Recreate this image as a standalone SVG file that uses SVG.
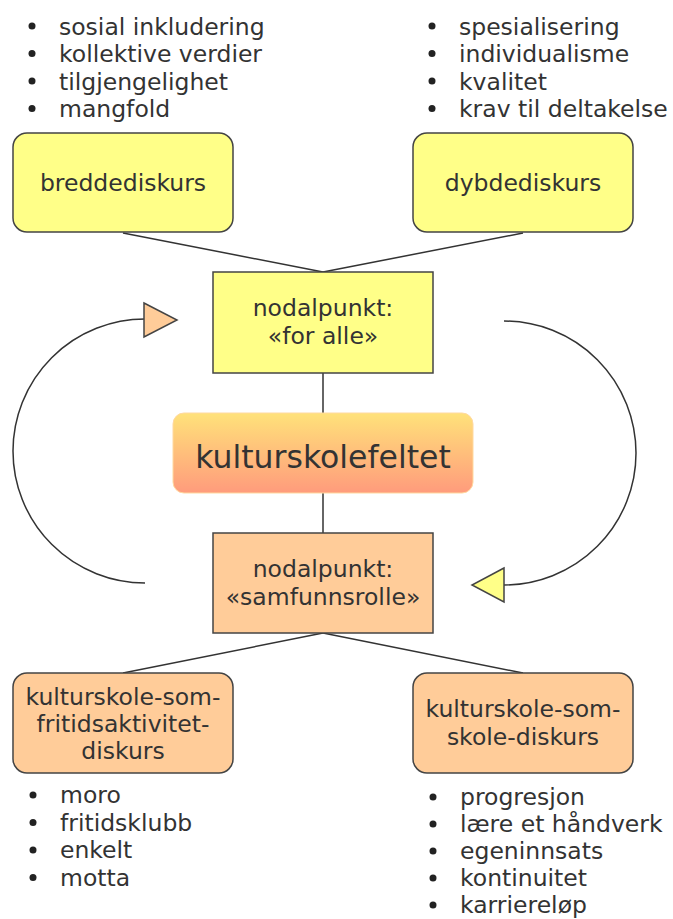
<svg xmlns="http://www.w3.org/2000/svg" width="673" height="919" viewBox="0 0 673 919">
<style>
text{font-family:"DejaVu Sans",Verdana,sans-serif;font-size:23.5px;fill:#333}
.c{text-anchor:middle}
.big{font-size:31.5px}
.yel{fill:#ffff88;stroke:#444;stroke-width:1.5}
.ora{fill:#ffcc99;stroke:#444;stroke-width:1.5}
.ln{stroke:#333;stroke-width:1.5;fill:none}
.b{fill:#222}
</style>
<defs>
<linearGradient id="g" x1="0" y1="0" x2="0" y2="1">
<stop offset="0" stop-color="#ffe27a"/>
<stop offset="1" stop-color="#ff9b7c"/>
</linearGradient>
</defs>
<g id="connectors">
<line class="ln" x1="123" y1="233" x2="323" y2="272"/>
<line class="ln" x1="523" y1="233" x2="323" y2="272"/>
<line class="ln" x1="323" y1="373" x2="323" y2="413"/>
<line class="ln" x1="323" y1="493" x2="323" y2="533"/>
<line class="ln" x1="323" y1="633" x2="123" y2="673"/>
<line class="ln" x1="323" y1="633" x2="523" y2="673"/>
<path class="ln" d="M145,583 A132,132 0 0 1 145,319"/>
<polygon class="ora" points="144,303 177,320 144,337"/>
<path class="ln" d="M504,321 A132,132 0 0 1 504,585"/>
<polygon class="yel" points="504,568 472,585 504,602"/>
</g>
<g id="list-top-left">
<circle class="b" cx="32" cy="26" r="3.5"/><text x="59" y="34.5">sosial inkludering</text>
<circle class="b" cx="32" cy="53.5" r="3.5"/><text x="59" y="62">kollektive verdier</text>
<circle class="b" cx="32" cy="81" r="3.5"/><text x="59" y="89.5">tilgjengelighet</text>
<circle class="b" cx="32" cy="108.5" r="3.5"/><text x="59" y="117">mangfold</text>
</g>
<g id="list-top-right">
<circle class="b" cx="432" cy="26" r="3.5"/><text x="459" y="34.5">spesialisering</text>
<circle class="b" cx="432" cy="53.5" r="3.5"/><text x="459" y="62">individualisme</text>
<circle class="b" cx="432" cy="81" r="3.5"/><text x="459" y="89.5">kvalitet</text>
<circle class="b" cx="432" cy="108.5" r="3.5"/><text x="459" y="117">krav til deltakelse</text>
</g>
<g id="breddediskurs">
<rect class="yel" x="13" y="133" width="220" height="99" rx="14"/>
<text class="c" x="123" y="191">breddediskurs</text>
</g>
<g id="dybdediskurs">
<rect class="yel" x="413" y="133" width="220" height="99" rx="14"/>
<text class="c" x="523" y="191">dybdediskurs</text>
</g>
<g id="nodal-for-alle">
<rect class="yel" x="213" y="272" width="220" height="101"/>
<text class="c" x="323" y="316">nodalpunkt:</text>
<text class="c" x="323" y="344">«for alle»</text>
</g>
<g id="kulturskolefeltet">
<rect x="173" y="413" width="300" height="80" rx="11" fill="url(#g)" stroke="#ffd9a0" stroke-width="1"/>
<text class="c big" x="323" y="468">kulturskolefeltet</text>
</g>
<g id="nodal-samfunnsrolle">
<rect class="ora" x="213" y="533" width="220" height="100"/>
<text class="c" x="323" y="577">nodalpunkt:</text>
<text class="c" x="323" y="605">«samfunnsrolle»</text>
</g>
<g id="fritid-diskurs">
<rect class="ora" x="13" y="673" width="220" height="100" rx="14"/>
<text class="c" x="123" y="705">kulturskole-som-</text>
<text class="c" x="123" y="732">fritidsaktivitet-</text>
<text class="c" x="123" y="759">diskurs</text>
</g>
<g id="skole-diskurs">
<rect class="ora" x="413" y="673" width="220" height="100" rx="14"/>
<text class="c" x="523" y="717">kulturskole-som-</text>
<text class="c" x="523" y="745">skole-diskurs</text>
</g>
<g id="list-bottom-left">
<circle class="b" cx="33" cy="795" r="3.5"/><text x="60" y="803">moro</text>
<circle class="b" cx="33" cy="822.5" r="3.5"/><text x="60" y="830.5">fritidsklubb</text>
<circle class="b" cx="33" cy="850" r="3.5"/><text x="60" y="858">enkelt</text>
<circle class="b" cx="33" cy="877.5" r="3.5"/><text x="60" y="885.5">motta</text>
</g>
<g id="list-bottom-right">
<circle class="b" cx="433" cy="797" r="3.5"/><text x="460" y="805">progresjon</text>
<circle class="b" cx="433" cy="824" r="3.5"/><text x="460" y="832">lære et håndverk</text>
<circle class="b" cx="433" cy="851" r="3.5"/><text x="460" y="859">egeninnsats</text>
<circle class="b" cx="433" cy="878" r="3.5"/><text x="460" y="886">kontinuitet</text>
<circle class="b" cx="433" cy="905" r="3.5"/><text x="460" y="913">karriereløp</text>
</g>
</svg>
